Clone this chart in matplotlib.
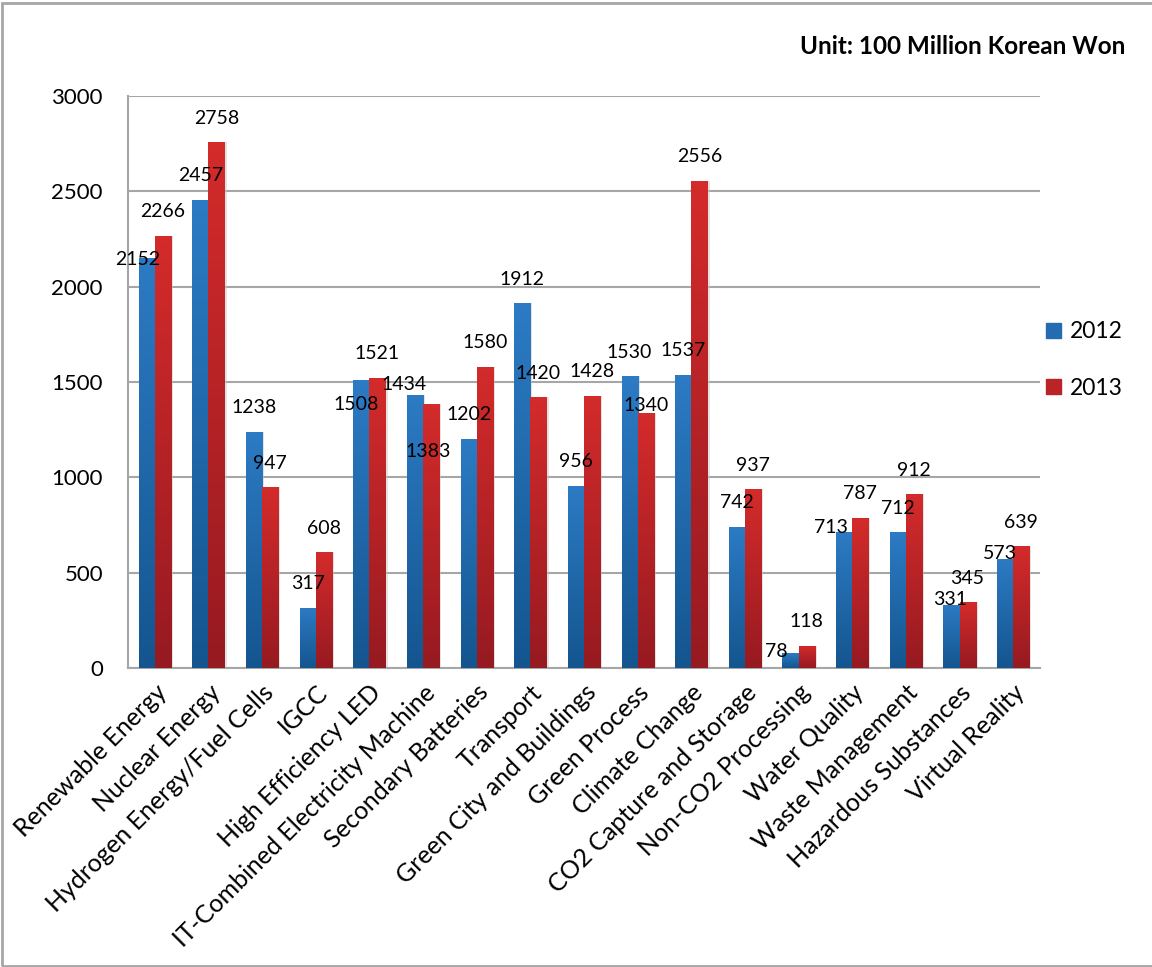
import numpy as np
import matplotlib
matplotlib.use('Agg')
import matplotlib.pyplot as plt
from matplotlib.colors import LinearSegmentedColormap
from matplotlib.patches import Rectangle

plt.rcParams['font.family'] = ['Lato', 'DejaVu Sans']

categories = ['Renewable Energy', 'Nuclear Energy', 'Hydrogen Energy/Fuel Cells', 'IGCC',
              'High Efficiency LED', 'IT-Combined Electricity Machine', 'Secondary Batteries',
              'Transport', 'Green City and Buildings', 'Green Process', 'Climate Change',
              'CO2 Capture and Storage', 'Non-CO2 Processing', 'Water Quality',
              'Waste Management', 'Hazardous Substances', 'Virtual Reality']
values_2012 = [2152, 2457, 1238, 317, 1508, 1434, 1202, 1912, 956, 1530, 1537, 742, 78, 713, 712, 331, 573]
values_2013 = [2266, 2758, 947, 608, 1521, 1383, 1580, 1420, 1428, 1340, 2556, 937, 118, 787, 912, 345, 639]
series_names = ['2012', '2013']

# label nudges in pixels (dx, dy; dy down), default sits above the bar
default_off = (0, -24)
nudge_2012 = {0: (-9, 2), 4: (-5, 24), 5: (-11, -10), 12: (-14, -1.5), 13: (-13, -5),
              15: (-1.5, -5), 16: (-5, -5.4)}
nudge_2013 = {5: (-3, 47), 9: (0, -7.5)}

blue_cmap = LinearSegmentedColormap.from_list('b', ['#14558f', '#2c7bc4'])
red_cmap = LinearSegmentedColormap.from_list('r', ['#961a21', '#d42b2b'])

fig = plt.figure(figsize=(11.52, 9.67), dpi=100)
ax = fig.add_axes([128 / 1152, 1 - 668 / 967, 912 / 1152, 572 / 967])

x = np.arange(len(categories))
w = 0.3
ymax = 3000


def gradient_bars(xs, vals, cmap, label):
    bars = ax.bar(xs, vals, w, color=cmap(0.6), label=label, zorder=3)
    grad = np.linspace(0, 1, 256).reshape(-1, 1)
    for b in bars:
        bx, by = b.get_x(), b.get_y()
        bw, bh = b.get_width(), b.get_height()
        # soft shadow on the right
        ax.add_patch(Rectangle((bx + bw, by), 0.04, bh, color='#c8c8c8', alpha=0.5, zorder=2, lw=0))
        im = ax.imshow(grad, extent=(bx, bx + bw, by, by + bh), origin='lower',
                       cmap=cmap, aspect='auto', zorder=3.5, vmin=0, vmax=1)
        im.set_clip_path(b)
    return bars


b1 = gradient_bars(x - w / 2, values_2012, blue_cmap, series_names[0])
b2 = gradient_bars(x + w / 2, values_2013, red_cmap, series_names[1])

for bars, vals, nudge in [(b1, values_2012, nudge_2012), (b2, values_2013, nudge_2013)]:
    for i, (b, v) in enumerate(zip(bars, vals)):
        dx, dy = nudge.get(i, default_off)
        ax.annotate(str(v), (b.get_x() + b.get_width() / 2, v),
                    xytext=(dx * 0.72, -dy * 0.72), textcoords='offset points',
                    ha='center', va='center', fontsize=14, color='black', zorder=5)

ax.set_xlim(-0.5, len(categories) - 0.5)
ax.set_ylim(0, ymax)
ax.set_yticks(np.arange(0, 3001, 500))
ax.yaxis.grid(True, color='#a6a6a6', lw=1.5)
ax.set_axisbelow(True)
for s in ['top', 'right']:
    ax.spines[s].set_visible(False)
for s in ['left', 'bottom']:
    ax.spines[s].set_color('#a6a6a6')
    ax.spines[s].set_linewidth(1.5)
ax.tick_params(axis='y', length=0, pad=18, labelsize=16)
ax.tick_params(axis='x', length=0, pad=9)
ax.set_xticks(x)
ax.set_xticklabels(categories, rotation=45, ha='right', va='top', rotation_mode='anchor',
                   fontsize=18)

handles = [Rectangle((0, 0), 1, 1, color=blue_cmap(0.6)), Rectangle((0, 0), 1, 1, color=red_cmap(0.6))]
fig.legend(handles, series_names, loc='center left', bbox_to_anchor=(1046 / 1152, 1 - 360 / 967),
           frameon=False, fontsize=16.5, handlelength=0.65, handleheight=0.65,
           handletextpad=0.4, labelspacing=1.55, borderpad=0, borderaxespad=0)

fig.text(1125 / 1152, 1 - 47 / 967, 'Unit: 100 Million Korean Won', ha='right', va='center',
         fontsize=17.5, fontweight='bold')

fig.patches.append(Rectangle((1.5 / 1152, 1.5 / 967), 1.1, 963 / 967, transform=fig.transFigure,
                             fill=False, edgecolor='#a6a6a6', lw=2))

fig.savefig('out.png', dpi=100)
